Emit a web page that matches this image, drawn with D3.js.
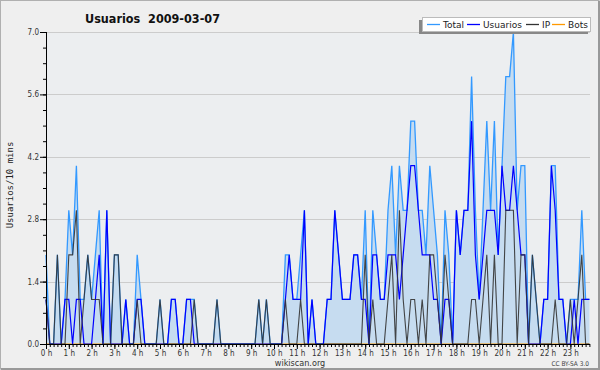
<!DOCTYPE html>
<html><head><meta charset="utf-8">
<script src="https://cdn.jsdelivr.net/npm/d3@7"></script>
<style>
html,body{margin:0;padding:0;background:#efefef;}
svg{display:block;}
.cond{font-family:"DejaVu Sans Condensed","DejaVu Sans",sans-serif;font-stretch:condensed;}
</style></head>
<body>
<svg id="chart" width="600" height="370"></svg>
<script>
// 10-minute slots, 144 per day
const usuarios = [1,0,0,0,0,1,1,0,1,1,0,0,0,1,2,0,3,0,0,0,0,1,0,0,1,1,0,0,0,0,0,0,0,1,1,0,0,1,1,0,0,0,0,0,0,0,0,0,0,0,0,0,0,0,0,0,0,0,0,0,0,0,0,1,2,1,1,1,3,0,1,0,0,0,1,1,3,2,1,1,1,2,2,1,1,0,2,2,1,1,2,2,2,1,2,3,4,4,3,2,2,2,1,1,0,1,1,0,3,2,3,3,5,2,1,2,3,3,3,2,4,3,3,4,3,2,2,0,0,0,0,1,1,4,3,1,1,0,0,1,0,1,1,1];
const ip       = [1,0,0,2,0,0,2,2,3,0,1,2,1,1,1,0,0,0,2,2,0,0,0,0,1,0,0,0,0,0,1,0,0,0,0,0,0,0,0,1,0,0,0,0,0,1,0,0,0,0,0,0,0,0,0,0,1,0,1,0,0,0,0,1,0,0,0,1,0,0,0,0,0,0,0,0,0,0,0,0,0,0,0,0,2,0,1,0,0,0,1,2,0,3,1,0,1,1,0,1,0,2,2,1,0,2,1,0,0,0,0,0,1,1,0,1,2,0,2,0,0,3,3,3,0,2,2,0,2,1,0,0,0,0,1,0,0,0,1,0,1,2,0,0];
const total    = [2,0,0,2,0,1,3,2,4,1,1,2,1,2,3,0,3,0,2,2,0,1,0,0,2,1,0,0,0,0,1,0,0,1,1,0,0,1,1,1,0,0,0,0,0,1,0,0,0,0,0,0,0,0,0,0,1,0,1,0,0,0,0,2,2,1,1,2,3,0,1,0,0,0,1,1,3,2,1,1,1,2,2,1,3,0,3,2,1,1,3,4,2,4,3,3,5,5,3,3,2,4,3,2,0,3,2,0,3,2,3,3,6,3,1,3,5,3,5,2,4,6,6,7,3,4,4,0,2,1,0,1,1,4,4,1,1,0,1,1,1,3,1,1];
const bots     = new Array(144).fill(0);
const yTicks = [0, 1.4, 2.8, 4.2, 5.6, 7.0];
const hourLabels = d3.range(24).map(h => h + " h");
const seriesNames = ["Total", "Usuarios", "IP", "Bots"];
const seriesColors = ["#3399ff", "#0000ff", "#333333", "#ff9900"];

const svg = d3.select("#chart");
const W = 600, H = 370;
const L = 46, R = 590, T = 32, B = 344;

svg.append("rect").attr("x",0.5).attr("y",0.5).attr("width",W-1.5).attr("height",H-1.5)
  .attr("fill","#efefef").attr("stroke","#b0b0b0");
svg.append("line").attr("x1",W-1).attr("x2",W-1).attr("y1",1).attr("y2",H).attr("stroke","#999").attr("stroke-width",2);
svg.append("line").attr("x1",1).attr("x2",W).attr("y1",H-1).attr("y2",H-1).attr("stroke","#999").attr("stroke-width",2);

const x = d3.scaleLinear().domain([0, 24]).range([L, 593.2]);
const y = d3.scaleLinear().domain([0, 7]).range([B, T]);
const xi = i => x(i / 6);

svg.append("rect").attr("x",L).attr("y",T).attr("width",R-L).attr("height",B-T).attr("fill","#eceef0");

// grid
svg.append("g").selectAll("line").data(yTicks.slice(1)).join("line")
  .attr("x1",L).attr("x2",R).attr("y1",d=>Math.round(y(d))+0.5).attr("y2",d=>Math.round(y(d))+0.5)
  .attr("stroke","#cccccc").attr("stroke-width",1);

const idx = d3.range(144);
const area = d3.area().x(i=>xi(i)).y0(B).y1(i=>y(total[i]));
svg.append("path").datum(idx).attr("d",area).attr("fill","#c6dcf0");

const mkLine = arr => d3.line().x(i=>xi(i)).y(i=>y(arr[i]));
svg.append("path").datum(idx).attr("d",mkLine(bots)).attr("fill","none").attr("stroke",seriesColors[3]).attr("stroke-width",1.2);
svg.append("path").datum(idx).attr("d",mkLine(total)).attr("fill","none").attr("stroke",seriesColors[0]).attr("stroke-width",1.3);
svg.append("path").datum(idx).attr("d",mkLine(usuarios)).attr("fill","none").attr("stroke",seriesColors[1]).attr("stroke-width",1.2);
svg.append("path").datum(idx).attr("d",mkLine(ip)).attr("fill","none").attr("stroke",seriesColors[2]).attr("stroke-width",1.1).attr("stroke-opacity",0.9);

// axes
const yAxis = d3.axisLeft(y).tickValues(yTicks).tickFormat(d3.format(".1f")).tickSize(6).tickPadding(1);
const gy = svg.append("g").attr("transform",`translate(${L},0)`).call(yAxis);
gy.select(".domain").remove();
gy.selectAll("text").attr("class","cond").attr("font-size",8).attr("fill","#333");
const yMinor = d3.axisLeft(y).tickValues(d3.range(0, 7.01, 0.35)).tickFormat("").tickSize(3);
const gy2 = svg.append("g").attr("transform",`translate(${L},0)`).call(yMinor);
gy2.select(".domain").remove();
svg.append("line").attr("x1",L+0.5).attr("x2",L+0.5).attr("y1",T).attr("y2",B+1).attr("stroke","#000");

const xAxis = d3.axisBottom(x).tickValues(d3.range(24)).tickFormat((d,i)=>hourLabels[i]).tickSize(5).tickPadding(1);
const gx = svg.append("g").attr("transform",`translate(0,${B})`).call(xAxis);
gx.select(".domain").remove();
gx.selectAll("text").attr("class","cond").attr("font-size",8).attr("fill","#333");
const xMinor = d3.axisBottom(x).tickValues(d3.range(0, 144).map(i=>i/6)).tickFormat("").tickSize(3);
const gx2 = svg.append("g").attr("transform",`translate(0,${B})`).call(xMinor);
gx2.select(".domain").remove();
svg.append("line").attr("x1",L).attr("x2",R).attr("y1",B+0.5).attr("y2",B+0.5).attr("stroke","#000");

// title
svg.append("text").attr("class","cond").attr("x",85).attr("y",23).attr("font-size",12.5).attr("font-weight","bold")
  .attr("fill","#111").attr("xml:space","preserve").text("Usuarios  2009-03-07");

// y label
svg.append("text").attr("transform","translate(13,185) rotate(-90)").attr("text-anchor","middle")
  .attr("font-family","DejaVu Sans Mono, monospace").attr("font-size",9).attr("fill","#222").text("Usuarios/10 mins");

// footer
svg.append("text").attr("class","cond").attr("x",300).attr("y",366).attr("text-anchor","middle").attr("font-size",9).attr("fill","#333").text("wikiscan.org");
svg.append("text").attr("class","cond").attr("x",589).attr("y",366).attr("text-anchor","end").attr("font-size",6.5).attr("fill","#444").text("CC BY-SA 3.0");

// legend
const lg = svg.append("g");
lg.append("rect").attr("x",419).attr("y",20).attr("width",169).attr("height",14).attr("fill","#888");
lg.append("rect").attr("x",422.5).attr("y",17.5).attr("width",168).attr("height",14).attr("fill","#fff").attr("stroke","#bbb");
const lx = [427, 467, 526, 552];
seriesNames.forEach((n,k)=>{
  lg.append("line").attr("x1",lx[k]).attr("x2",lx[k]+13).attr("y1",24.5).attr("y2",24.5).attr("stroke",seriesColors[k]).attr("stroke-width",1.3);
  lg.append("text").attr("x",lx[k]+16).attr("y",28).attr("font-family","DejaVu Sans, sans-serif").attr("font-size",9).attr("fill","#222").text(n);
});
</script>
</body></html>
